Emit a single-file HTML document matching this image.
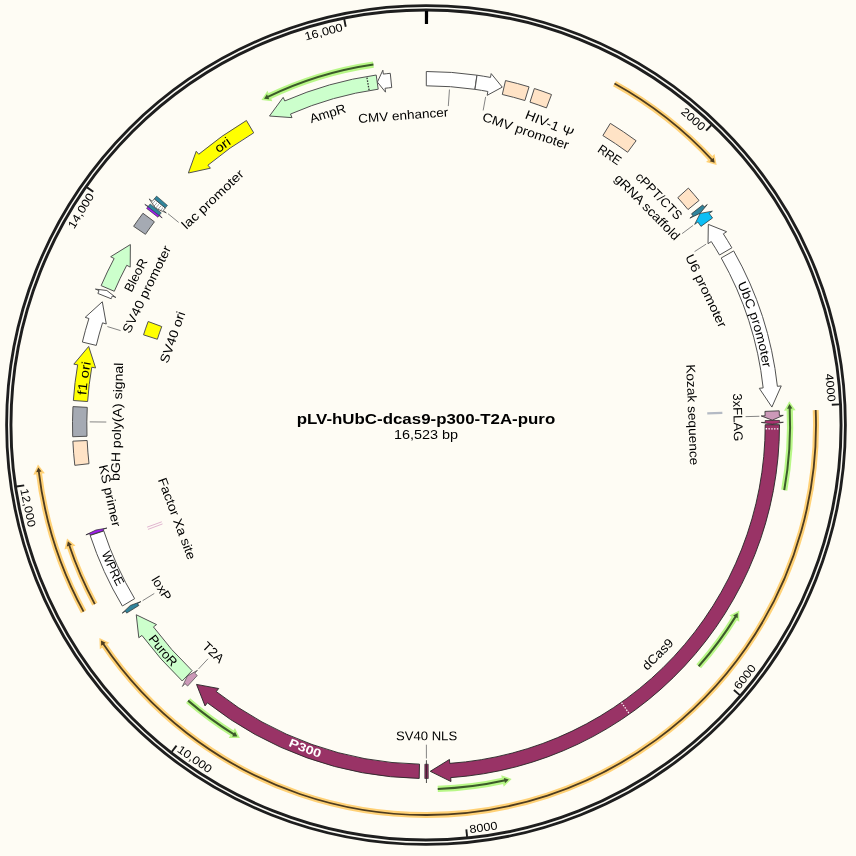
<!DOCTYPE html>
<html><head><meta charset="utf-8"><title>pLV-hUbC-dcas9-p300-T2A-puro</title>
<style>html,body{margin:0;padding:0;background:#FEFCF4;}svg{display:block;will-change:transform;}text{font-family:"Liberation Sans", sans-serif;}</style></head>
<body><svg width="856" height="856" viewBox="0 0 856 856">
<rect x="0" y="0" width="856" height="856" fill="#FEFCF4"/>
<circle cx="426.0" cy="425.0" r="417.2" fill="none" stroke="#1e1e1e" stroke-width="7.2"/>
<circle cx="426.0" cy="425.0" r="417.25" fill="none" stroke="#fbfaf4" stroke-width="1.5"/>
<path d="M 426.51 11.00 L 426.49 24.00" stroke="#000" stroke-width="3.2"/>
<path d="M 711.37 125.07 L 706.07 130.65" stroke="#1c1c1c" stroke-width="1.9"/>
<text x="693.37" y="119.07" transform="rotate(41.15 693.37 119.07)" font-size="11.40" text-anchor="middle" dominant-baseline="central" textLength="27.98" lengthAdjust="spacingAndGlyphs" fill="#000">2000</text>
<path d="M 839.49 404.42 L 831.80 404.81" stroke="#1c1c1c" stroke-width="1.9"/>
<text x="830.58" y="387.66" transform="rotate(84.73 830.58 387.66)" font-size="11.40" text-anchor="middle" dominant-baseline="central" textLength="27.98" lengthAdjust="spacingAndGlyphs" fill="#000">4000</text>
<path d="M 739.74 695.12 L 733.91 690.09" stroke="#1c1c1c" stroke-width="1.9"/>
<text x="744.84" y="676.83" transform="rotate(-51.70 744.84 676.83)" font-size="11.40" text-anchor="middle" dominant-baseline="central" textLength="27.98" lengthAdjust="spacingAndGlyphs" fill="#000">6000</text>
<path d="M 467.10 836.95 L 466.34 829.29" stroke="#1c1c1c" stroke-width="1.9"/>
<text x="483.40" y="827.22" transform="rotate(-8.12 483.40 827.22)" font-size="11.40" text-anchor="middle" dominant-baseline="central" textLength="27.98" lengthAdjust="spacingAndGlyphs" fill="#000">8000</text>
<path d="M 171.81 751.78 L 176.54 745.70" stroke="#1c1c1c" stroke-width="1.9"/>
<text x="194.83" y="759.13" transform="rotate(34.68 194.83 759.13)" font-size="11.40" text-anchor="middle" dominant-baseline="central" textLength="38.98" lengthAdjust="spacingAndGlyphs" fill="#000">10,000</text>
<path d="M 16.60 486.52 L 24.21 485.38" stroke="#1c1c1c" stroke-width="1.9"/>
<text x="28.21" y="507.71" transform="rotate(78.25 28.21 507.71)" font-size="11.40" text-anchor="middle" dominant-baseline="central" textLength="38.98" lengthAdjust="spacingAndGlyphs" fill="#000">12,000</text>
<path d="M 86.99 187.37 L 93.30 191.79" stroke="#1c1c1c" stroke-width="1.9"/>
<text x="80.80" y="210.72" transform="rotate(-58.17 80.80 210.72)" font-size="11.40" text-anchor="middle" dominant-baseline="central" textLength="38.98" lengthAdjust="spacingAndGlyphs" fill="#000">14,000</text>
<path d="M 344.21 19.16 L 345.73 26.71" stroke="#1c1c1c" stroke-width="1.9"/>
<text x="323.62" y="31.81" transform="rotate(-14.60 323.62 31.81)" font-size="11.40" text-anchor="middle" dominant-baseline="central" textLength="38.98" lengthAdjust="spacingAndGlyphs" fill="#000">16,000</text>
<g fill="none" stroke-linecap="butt"><path d="M 614.48 83.57 A 390.00 390.00 0 0 1 712.25 160.12" stroke="#FFD176" stroke-width="6.00"/>
<path d="M 716.63 164.93 L 714.50 154.03 L 706.05 161.97 Z" fill="#FFD176" stroke="none"/>
<path d="M 614.48 83.57 A 390.00 390.00 0 0 1 712.25 160.12" stroke="#4d3c20" stroke-width="1.80"/>
<path d="M 714.69 162.78 L 713.62 157.63 L 709.66 161.30 Z" fill="#4d3c20" stroke="none"/></g>
<g fill="none" stroke-linecap="butt"><path d="M 815.71 410.03 A 390.00 390.00 0 0 1 102.98 643.53" stroke="#FFD176" stroke-width="6.00"/>
<path d="M 99.38 638.12 L 99.83 649.21 L 109.39 642.64 Z" fill="#FFD176" stroke="none"/>
<path d="M 815.71 410.03 A 390.00 390.00 0 0 1 102.98 643.53" stroke="#4d3c20" stroke-width="1.80"/>
<path d="M 100.97 640.54 L 101.25 645.79 L 105.71 642.76 Z" fill="#4d3c20" stroke="none"/></g>
<g fill="none" stroke-linecap="butt"><path d="M 83.59 611.69 A 390.00 390.00 0 0 1 38.73 471.03" stroke="#FFD176" stroke-width="6.00"/>
<path d="M 38.01 464.57 L 33.33 474.64 L 44.83 473.19 Z" fill="#FFD176" stroke="none"/>
<path d="M 83.59 611.69 A 390.00 390.00 0 0 1 38.73 471.03" stroke="#4d3c20" stroke-width="1.80"/>
<path d="M 38.32 467.46 L 36.15 472.25 L 41.51 471.60 Z" fill="#4d3c20" stroke="none"/></g>
<g fill="none" stroke-linecap="butt"><path d="M 94.81 604.07 A 376.50 376.50 0 0 1 69.06 544.76" stroke="#FFD176" stroke-width="6.00"/>
<path d="M 67.04 538.58 L 64.50 549.40 L 75.47 545.62 Z" fill="#FFD176" stroke="none"/>
<path d="M 94.81 604.07 A 376.50 376.50 0 0 1 69.06 544.76" stroke="#4d3c20" stroke-width="1.80"/>
<path d="M 67.93 541.34 L 66.79 546.48 L 71.90 544.75 Z" fill="#4d3c20" stroke="none"/></g>
<g fill="none" stroke-linecap="butt"><path d="M 373.43 64.61 A 364.20 364.20 0 0 0 267.30 97.20" stroke="#B8F787" stroke-width="6.30"/>
<path d="M 261.47 100.08 L 267.43 90.70 L 272.40 101.18 Z" fill="#B8F787" stroke="none"/>
<path d="M 373.43 64.61 A 364.20 364.20 0 0 0 267.30 97.20" stroke="#3c5a2a" stroke-width="2.00"/>
<path d="M 264.06 98.78 L 266.94 94.37 L 269.28 99.24 Z" fill="#3c5a2a" stroke="none"/></g>
<g fill="none" stroke-linecap="butt"><path d="M 784.23 490.10 A 364.10 364.10 0 0 0 789.69 407.64" stroke="#B8F787" stroke-width="6.30"/>
<path d="M 789.32 401.15 L 795.61 410.30 L 784.02 410.76 Z" fill="#B8F787" stroke="none"/>
<path d="M 784.23 490.10 A 364.10 364.10 0 0 0 789.69 407.64" stroke="#3c5a2a" stroke-width="2.00"/>
<path d="M 789.50 404.04 L 792.42 408.41 L 787.03 408.66 Z" fill="#3c5a2a" stroke="none"/></g>
<g fill="none" stroke-linecap="butt"><path d="M 698.69 666.26 A 364.10 364.10 0 0 0 735.89 616.14" stroke="#B8F787" stroke-width="6.30"/>
<path d="M 739.25 610.58 L 739.27 621.69 L 729.45 615.52 Z" fill="#B8F787" stroke="none"/>
<path d="M 698.69 666.26 A 364.10 364.10 0 0 0 735.89 616.14" stroke="#3c5a2a" stroke-width="2.00"/>
<path d="M 737.77 613.07 L 737.71 618.33 L 733.12 615.49 Z" fill="#3c5a2a" stroke="none"/></g>
<g fill="none" stroke-linecap="butt"><path d="M 437.75 788.91 A 364.10 364.10 0 0 0 505.32 780.35" stroke="#B8F787" stroke-width="6.30"/>
<path d="M 511.65 778.88 L 503.71 786.65 L 501.27 775.30 Z" fill="#B8F787" stroke="none"/>
<path d="M 437.75 788.91 A 364.10 364.10 0 0 0 505.32 780.35" stroke="#3c5a2a" stroke-width="2.00"/>
<path d="M 508.83 779.55 L 505.03 783.19 L 503.86 777.91 Z" fill="#3c5a2a" stroke="none"/></g>
<g fill="none" stroke-linecap="butt"><path d="M 188.09 700.62 A 364.10 364.10 0 0 0 234.32 734.56" stroke="#B8F787" stroke-width="6.30"/>
<path d="M 239.87 737.93 L 228.76 737.93 L 234.95 728.11 Z" fill="#B8F787" stroke="none"/>
<path d="M 188.09 700.62 A 364.10 364.10 0 0 0 234.32 734.56" stroke="#3c5a2a" stroke-width="2.00"/>
<path d="M 237.39 736.44 L 232.12 736.38 L 234.98 731.79 Z" fill="#3c5a2a" stroke="none"/></g>
<path d="M 426.31 71.50 A 353.50 353.50 0 0 1 476.91 75.18 L 474.85 89.34 A 339.20 339.20 0 0 0 426.30 85.80 Z" fill="#FFFFFF" stroke="#525252" stroke-width="1.00" stroke-linejoin="miter"/>
<path d="M 477.03 75.20 A 353.50 353.50 0 0 1 490.48 77.43 L 491.19 73.60 L 502.26 87.15 L 487.16 95.33 L 487.87 91.49 A 339.20 339.20 0 0 0 474.97 89.35 Z" fill="#FFFFFF" stroke="#525252" stroke-width="1.00" stroke-linejoin="miter"/>
<path d="M 505.52 80.56 A 353.50 353.50 0 0 1 529.06 86.86 L 524.89 100.54 A 339.20 339.20 0 0 0 502.30 94.49 Z" fill="#FFE3C6" stroke="#525252" stroke-width="1.00" stroke-linejoin="miter"/>
<path d="M 534.36 88.52 A 353.50 353.50 0 0 1 551.53 94.54 L 546.45 107.91 A 339.20 339.20 0 0 0 529.97 102.13 Z" fill="#FFE3C6" stroke="#525252" stroke-width="1.00" stroke-linejoin="miter"/>
<path d="M 610.33 123.37 A 353.50 353.50 0 0 1 636.12 140.73 L 627.62 152.23 A 339.20 339.20 0 0 0 602.88 135.57 Z" fill="#FFE3C6" stroke="#525252" stroke-width="1.00" stroke-linejoin="miter"/>
<path d="M 688.37 188.10 A 353.50 353.50 0 0 1 699.04 200.48 L 688.00 209.56 A 339.20 339.20 0 0 0 677.76 197.68 Z" fill="#FFE3C6" stroke="#525252" stroke-width="1.00" stroke-linejoin="miter"/>
<path d="M 702.65 204.94 A 353.50 353.50 0 0 1 704.22 206.93 L 707.29 204.52 L 700.11 213.29 L 689.90 218.15 L 692.96 215.75 A 339.20 339.20 0 0 0 691.46 213.84 Z" fill="#31849B" stroke="#262626" stroke-width="0.70" stroke-linejoin="miter"/>
<path d="M 712.57 218.02 A 353.50 353.50 0 0 0 709.24 213.49 L 712.37 211.16 L 700.19 213.39 L 694.66 224.38 L 697.79 222.05 A 339.20 339.20 0 0 1 700.97 226.39 Z" fill="#0DBFF5" stroke="#262626" stroke-width="0.70" stroke-linejoin="miter"/>
<path d="M 731.89 247.82 A 353.50 353.50 0 0 0 723.34 233.82 L 726.62 231.71 L 708.32 224.37 L 708.03 243.66 L 711.31 241.55 A 339.20 339.20 0 0 1 719.52 254.99 Z" fill="#FFFFFF" stroke="#525252" stroke-width="1.00" stroke-linejoin="miter"/>
<path d="M 733.67 250.93 A 353.50 353.50 0 0 1 777.38 386.34 L 781.26 385.91 L 771.88 407.05 L 759.29 388.33 L 763.17 387.90 A 339.20 339.20 0 0 0 721.22 257.97 Z" fill="#FFFFFF" stroke="#525252" stroke-width="1.00" stroke-linejoin="miter"/>
<path d="M 779.22 410.81 A 353.50 353.50 0 0 1 779.37 415.44 L 783.27 415.33 L 772.32 420.16 L 761.18 415.93 L 765.08 415.82 A 339.20 339.20 0 0 0 764.93 411.39 Z" fill="#CC99B8" stroke="#262626" stroke-width="0.80" stroke-linejoin="miter"/>
<path d="M 779.47 420.37 A 353.50 353.50 0 0 1 779.49 422.29 L 783.39 422.26 L 772.35 424.21 L 761.29 422.43 L 765.19 422.40 A 339.20 339.20 0 0 0 765.17 420.56 Z" fill="#A8336F" stroke="#262626" stroke-width="0.70" stroke-linejoin="miter"/>
<path d="M 779.50 424.69 A 353.50 353.50 0 0 1 450.71 777.64 L 450.98 781.53 L 430.23 771.32 L 449.44 759.48 L 449.71 763.37 A 339.20 339.20 0 0 0 765.20 424.70 Z" fill="#993366" stroke="#262626" stroke-width="0.90" stroke-linejoin="miter"/>
<path d="M 765.68 428.74 L 778.98 428.88" stroke="#fff" stroke-width="1.3" stroke-dasharray="1.4 1.4" fill="none"/>
<path d="M 621.57 702.75 L 629.23 713.63" stroke="#fff" stroke-width="1.3" stroke-dasharray="1.4 1.4" fill="none"/>
<path d="M 428.34 778.49 A 353.50 353.50 0 0 1 424.77 778.50 L 424.82 764.20 A 339.20 339.20 0 0 0 428.25 764.19 Z" fill="#8f2f60" stroke="#262626" stroke-width="0.60" stroke-linejoin="miter"/>
<path d="M 426.41 760.20 L 426.44 783.00" stroke="#222" stroke-width="0.8"/>
<path d="M 419.21 778.43 A 353.50 353.50 0 0 1 207.43 702.83 L 205.02 705.90 L 196.50 684.40 L 218.69 688.53 L 216.28 691.59 A 339.20 339.20 0 0 0 419.49 764.14 Z" fill="#993366" stroke="#262626" stroke-width="0.90" stroke-linejoin="miter"/>
<path d="M 187.63 686.04 A 353.50 353.50 0 0 1 185.03 683.64 L 182.37 686.49 L 187.37 676.03 L 197.43 670.32 L 194.77 673.18 A 339.20 339.20 0 0 0 197.28 675.48 Z" fill="#CC99B8" stroke="#555" stroke-width="0.80" stroke-linejoin="miter"/>
<path d="M 182.22 680.99 A 353.50 353.50 0 0 1 141.94 635.41 L 138.81 637.73 L 136.25 614.75 L 156.57 624.58 L 153.43 626.90 A 339.20 339.20 0 0 0 192.08 670.64 Z" fill="#CCFFCC" stroke="#525252" stroke-width="1.00" stroke-linejoin="miter"/>
<path d="M 126.71 613.11 A 353.50 353.50 0 0 1 125.48 611.15 L 122.17 613.20 L 130.37 605.45 L 140.95 601.56 L 137.64 603.62 A 339.20 339.20 0 0 0 138.81 605.50 Z" fill="#31849B" stroke="#262626" stroke-width="0.70" stroke-linejoin="miter"/>
<path d="M 122.36 606.01 A 353.50 353.50 0 0 1 90.18 535.41 L 103.77 530.94 A 339.20 339.20 0 0 0 134.64 598.68 Z" fill="#FFFFFF" stroke="#525252" stroke-width="1.00" stroke-linejoin="miter"/>
<path d="M 90.09 535.12 A 353.50 353.50 0 0 1 89.61 533.65 L 85.90 534.85 L 95.95 530.01 L 106.93 528.06 L 103.22 529.26 A 339.20 339.20 0 0 0 103.68 530.66 Z" fill="#A020F0" stroke="#262626" stroke-width="0.70" stroke-linejoin="miter"/>
<path d="M 74.81 465.32 A 353.50 353.50 0 0 1 72.87 441.16 L 87.15 440.51 A 339.20 339.20 0 0 0 89.01 463.69 Z" fill="#FFE3C6" stroke="#525252" stroke-width="1.00" stroke-linejoin="miter"/>
<path d="M 72.69 436.72 A 353.50 353.50 0 0 1 72.98 406.62 L 87.26 407.37 A 339.20 339.20 0 0 0 86.99 436.25 Z" fill="#A5AAB3" stroke="#525252" stroke-width="1.00" stroke-linejoin="miter"/>
<path d="M 73.35 400.53 A 353.50 353.50 0 0 1 77.66 364.82 L 73.82 364.16 L 88.68 346.44 L 95.59 367.92 L 91.75 367.26 A 339.20 339.20 0 0 0 87.61 401.52 Z" fill="#FFFF00" stroke="#525252" stroke-width="1.00" stroke-linejoin="miter"/>
<path d="M 82.37 342.06 A 353.50 353.50 0 0 1 88.92 318.52 L 85.20 317.34 L 102.31 301.78 L 106.27 324.00 L 102.56 322.82 A 339.20 339.20 0 0 0 96.27 345.41 Z" fill="#FFFFFF" stroke="#525252" stroke-width="1.00" stroke-linejoin="miter"/>
<path d="M 97.89 293.44 A 353.50 353.50 0 0 1 99.06 290.58 L 95.45 289.09 L 106.83 290.51 L 115.89 297.50 L 112.28 296.01 A 339.20 339.20 0 0 0 111.17 298.76 Z" fill="#FFFFFF" stroke="#525252" stroke-width="1.00" stroke-linejoin="miter"/>
<path d="M 101.13 285.63 A 353.50 353.50 0 0 1 114.14 258.54 L 110.70 256.71 L 130.37 244.55 L 130.20 267.11 L 126.76 265.28 A 339.20 339.20 0 0 0 114.28 291.27 Z" fill="#CCFFCC" stroke="#525252" stroke-width="1.00" stroke-linejoin="miter"/>
<path d="M 133.63 226.30 A 353.50 353.50 0 0 1 142.94 213.25 L 154.39 221.81 A 339.20 339.20 0 0 0 145.45 234.34 Z" fill="#A5AAB3" stroke="#525252" stroke-width="1.00" stroke-linejoin="miter"/>
<path d="M 146.60 208.43 A 353.50 353.50 0 0 1 147.88 206.80 L 144.81 204.40 L 154.76 209.63 L 162.19 218.04 L 159.13 215.63 A 339.20 339.20 0 0 0 157.91 217.20 Z" fill="#A020F0" stroke="#262626" stroke-width="0.60" stroke-linejoin="miter"/>
<path d="M 154.29 198.86 A 353.50 353.50 0 0 0 152.21 201.39 L 149.19 198.92 L 155.74 208.40 L 166.31 212.90 L 163.29 210.43 A 339.20 339.20 0 0 1 165.28 208.01 Z" fill="#FFFFFF" stroke="#262626" stroke-width="0.70" stroke-linejoin="miter"/>
<path d="M 161.04 210.82 L 152.25 203.72" stroke="#444" stroke-width="0.7" stroke-dasharray="1 1.6" fill="none"/>
<path d="M 161.98 209.67 L 153.22 202.53" stroke="#444" stroke-width="0.7" stroke-dasharray="1 1.6" fill="none"/>
<path d="M 162.92 208.52 L 154.19 201.34" stroke="#444" stroke-width="0.7" stroke-dasharray="1 1.6" fill="none"/>
<path d="M 147.93 206.73 A 353.50 353.50 0 0 1 150.16 203.93 L 161.32 212.87 A 339.20 339.20 0 0 0 159.18 215.56 Z" fill="#31849B" stroke="#262626" stroke-width="0.50" stroke-linejoin="miter"/>
<path d="M 154.29 198.86 A 353.50 353.50 0 0 1 156.60 196.12 L 167.49 205.38 A 339.20 339.20 0 0 0 165.28 208.01 Z" fill="#31849B" stroke="#262626" stroke-width="0.50" stroke-linejoin="miter"/>
<path d="M 246.43 120.51 A 353.50 353.50 0 0 0 198.72 154.25 L 196.21 151.26 L 188.38 173.02 L 210.42 168.19 L 207.91 165.20 A 339.20 339.20 0 0 1 253.69 132.83 Z" fill="#FFFF00" stroke="#525252" stroke-width="1.00" stroke-linejoin="miter"/>
<path d="M 376.19 75.03 A 353.50 353.50 0 0 0 284.75 100.95 L 283.19 97.37 L 269.51 116.02 L 292.02 117.63 L 290.47 114.05 A 339.20 339.20 0 0 1 378.21 89.18 Z" fill="#CCFFCC" stroke="#525252" stroke-width="1.00" stroke-linejoin="miter"/>
<path d="M 369.06 90.11 L 366.83 76.99" stroke="#333" stroke-width="1.3" stroke-dasharray="1.4 1.4" fill="none"/>
<path d="M 390.28 73.31 A 353.50 353.50 0 0 0 383.32 74.09 L 382.85 70.21 L 377.38 82.08 L 385.51 92.15 L 385.04 88.28 A 339.20 339.20 0 0 1 391.72 87.54 Z" fill="#FFFFFF" stroke="#525252" stroke-width="1.00" stroke-linejoin="miter"/>
<path d="M 143.54 334.85 A 296.50 296.50 0 0 1 148.15 321.50 L 161.74 326.56 A 282.00 282.00 0 0 0 157.35 339.26 Z" fill="#FFFF00" stroke="#525252" stroke-width="1.00" stroke-linejoin="miter"/>
<path d="M 707.26 413.46 L 722.35 412.84" stroke="#B4BAC4" stroke-width="2.2"/>
<path d="M 162.56 523.92 L 147.95 529.40 M 161.77 521.80 L 147.12 527.16" fill="none" stroke="#D9A3C6" stroke-width="0.8"/>
<text x="327.88" y="113.80" transform="rotate(-17.50 327.88 113.80)" font-size="12.70" text-anchor="middle" dominant-baseline="central" textLength="37.19" lengthAdjust="spacingAndGlyphs" fill="#000">AmpR</text>
<path d="M 449.46 89.52 L 448.30 106.08" stroke="#777" stroke-width="0.9" fill="none"/>
<text x="403.28" y="115.63" transform="rotate(-4.20 403.28 115.63)" font-size="12.70" text-anchor="middle" dominant-baseline="central" textLength="90.21" lengthAdjust="spacingAndGlyphs" fill="#000">CMV enhancer</text>
<path d="M 485.63 96.87 L 483.16 110.45" stroke="#777" stroke-width="0.9" fill="none"/>
<text x="525.71" y="131.26" transform="rotate(18.75 525.71 131.26)" font-size="12.70" text-anchor="middle" dominant-baseline="central" textLength="90.39" lengthAdjust="spacingAndGlyphs" fill="#000">CMV promoter</text>
<text x="549.44" y="124.03" transform="rotate(22.30 549.44 124.03)" font-size="12.70" text-anchor="middle" dominant-baseline="central" textLength="51.23" lengthAdjust="spacingAndGlyphs" fill="#000">HIV-1 Ψ</text>
<text x="609.41" y="155.12" transform="rotate(34.20 609.41 155.12)" font-size="12.70" text-anchor="middle" dominant-baseline="central" textLength="25.27" lengthAdjust="spacingAndGlyphs" fill="#000">RRE</text>
<text x="658.73" y="196.29" transform="rotate(45.50 658.73 196.29)" font-size="12.70" text-anchor="middle" dominant-baseline="central" textLength="59.94" lengthAdjust="spacingAndGlyphs" fill="#000">cPPT/CTS</text>
<path d="M 693.15 225.37 L 682.09 233.63" stroke="#777" stroke-width="0.9" fill="none"/>
<text x="647.06" y="207.38" transform="rotate(45.45 647.06 207.38)" font-size="12.70" text-anchor="middle" dominant-baseline="central" textLength="86.91" lengthAdjust="spacingAndGlyphs" fill="#000">gRNA scaffold</text>
<path d="M 706.17 244.10 L 694.58 251.58" stroke="#777" stroke-width="0.9" fill="none"/>
<text x="705.75" y="290.97" transform="rotate(64.40 705.75 290.97)" font-size="12.70" text-anchor="middle" dominant-baseline="central" textLength="79.67" lengthAdjust="spacingAndGlyphs" fill="#000">U6 promoter</text>
<path id="tp1" d="M 735.65 280.18 A 341.84 341.84 0 0 1 763.69 371.91" fill="none" stroke="none"/>
<text font-size="12.60" fill="#000"><textPath href="#tp1" startOffset="50%" text-anchor="middle" textLength="88.24" lengthAdjust="spacingAndGlyphs">UbC promoter</textPath></text>
<path d="M 759.39 416.27 L 745.59 416.63" stroke="#777" stroke-width="0.9" fill="none"/>
<text x="737.51" y="417.39" transform="rotate(88.60 737.51 417.39)" font-size="12.70" text-anchor="middle" dominant-baseline="central" textLength="47.74" lengthAdjust="spacingAndGlyphs" fill="#000">3xFLAG</text>
<text x="692.20" y="414.77" transform="rotate(87.80 692.20 414.77)" font-size="12.70" text-anchor="middle" dominant-baseline="central" textLength="101.11" lengthAdjust="spacingAndGlyphs" fill="#000">Kozak sequence</text>
<text x="657.93" y="654.52" transform="rotate(-45.30 657.93 654.52)" font-size="12.70" text-anchor="middle" dominant-baseline="central" textLength="38.49" lengthAdjust="spacingAndGlyphs" fill="#000">dCas9</text>
<path d="M 426.41 758.50 L 426.39 744.70" stroke="#777" stroke-width="0.9" fill="none"/>
<text x="426.54" y="736.20" transform="rotate(-0.10 426.54 736.20)" font-size="12.70" text-anchor="middle" dominant-baseline="central" textLength="61.27" lengthAdjust="spacingAndGlyphs" fill="#000">SV40 NLS</text>
<path id="tp2" d="M 284.33 744.25 A 349.27 349.27 0 0 0 323.47 758.89" fill="none" stroke="none"/>
<text font-size="11.80" fill="#fff" font-weight="bold"><textPath href="#tp2" startOffset="50%" text-anchor="middle" textLength="33.82" lengthAdjust="spacingAndGlyphs">P300</textPath></text>
<path d="M 198.55 668.91 L 207.97 658.81" stroke="#777" stroke-width="0.9" fill="none"/>
<text x="213.09" y="652.52" transform="rotate(43.10 213.09 652.52)" font-size="12.70" text-anchor="middle" dominant-baseline="central" textLength="24.20" lengthAdjust="spacingAndGlyphs" fill="#000">T2A</text>
<path id="tp3" d="M 145.50 635.76 A 350.86 350.86 0 0 0 174.80 669.96" fill="none" stroke="none"/>
<text font-size="12.60" fill="#000"><textPath href="#tp3" startOffset="50%" text-anchor="middle" textLength="37.06" lengthAdjust="spacingAndGlyphs">PuroR</textPath></text>
<path d="M 142.56 600.74 L 154.29 593.47" stroke="#777" stroke-width="0.9" fill="none"/>
<text x="161.23" y="588.53" transform="rotate(58.30 161.23 588.53)" font-size="12.70" text-anchor="middle" dominant-baseline="central" textLength="25.95" lengthAdjust="spacingAndGlyphs" fill="#000">loxP</text>
<path id="tp4" d="M 100.19 549.72 A 348.86 348.86 0 0 0 118.70 590.14" fill="none" stroke="none"/>
<text font-size="12.60" fill="#000"><textPath href="#tp4" startOffset="50%" text-anchor="middle" textLength="36.49" lengthAdjust="spacingAndGlyphs">WPRE</textPath></text>
<text x="176.63" y="518.73" transform="rotate(69.40 176.63 518.73)" font-size="12.70" text-anchor="middle" dominant-baseline="central" textLength="86.25" lengthAdjust="spacingAndGlyphs" fill="#000">Factor Xa site</text>
<text x="109.51" y="495.74" transform="rotate(77.40 109.51 495.74)" font-size="12.70" text-anchor="middle" dominant-baseline="central" textLength="63.11" lengthAdjust="spacingAndGlyphs" fill="#000">KS primer</text>
<path d="M 89.71 421.89 L 106.31 422.04" stroke="#777" stroke-width="0.9" fill="none"/>
<text x="117.32" y="421.77" transform="rotate(-88.20 117.32 421.77)" font-size="12.70" text-anchor="middle" dominant-baseline="central" textLength="118.34" lengthAdjust="spacingAndGlyphs" fill="#000">bGH poly(A) signal</text>
<path id="tp5" d="M 85.94 399.15 A 341.04 341.04 0 0 1 91.52 358.45" fill="none" stroke="none"/>
<text font-size="12.60" fill="#000"><textPath href="#tp5" startOffset="50%" text-anchor="middle" textLength="33.10" lengthAdjust="spacingAndGlyphs">f1 ori</textPath></text>
<path d="M 107.36 326.55 L 120.55 330.62" stroke="#777" stroke-width="0.9" fill="none"/>
<text x="146.96" y="289.50" transform="rotate(-64.10 146.96 289.50)" font-size="12.70" text-anchor="middle" dominant-baseline="central" textLength="95.58" lengthAdjust="spacingAndGlyphs" fill="#000">SV40 promoter</text>
<text x="136.04" y="275.34" transform="rotate(-62.70 136.04 275.34)" font-size="12.70" text-anchor="middle" dominant-baseline="central" textLength="35.73" lengthAdjust="spacingAndGlyphs" fill="#000">BleoR</text>
<text x="172.85" y="337.34" transform="rotate(-70.90 172.85 337.34)" font-size="12.70" text-anchor="middle" dominant-baseline="central" textLength="53.75" lengthAdjust="spacingAndGlyphs" fill="#000">SV40 ori</text>
<path d="M 168.00 213.68 L 178.67 222.42" stroke="#777" stroke-width="0.9" fill="none"/>
<text x="212.87" y="199.62" transform="rotate(-43.40 212.87 199.62)" font-size="12.70" text-anchor="middle" dominant-baseline="central" textLength="80.03" lengthAdjust="spacingAndGlyphs" fill="#000">lac promoter</text>
<path id="tp6" d="M 215.35 155.78 A 341.84 341.84 0 0 1 235.05 141.47" fill="none" stroke="none"/>
<text font-size="12.60" fill="#000"><textPath href="#tp6" startOffset="50%" text-anchor="middle" textLength="16.35" lengthAdjust="spacingAndGlyphs">ori</textPath></text>
<text x="426" y="419" font-size="14.6" font-weight="bold" text-anchor="middle" dominant-baseline="central" textLength="258.5" lengthAdjust="spacingAndGlyphs">pLV-hUbC-dcas9-p300-T2A-puro</text>
<text x="426" y="434.5" font-size="12.9" text-anchor="middle" dominant-baseline="central" textLength="64.2" lengthAdjust="spacingAndGlyphs">16,523 bp</text>
</svg></body></html>
